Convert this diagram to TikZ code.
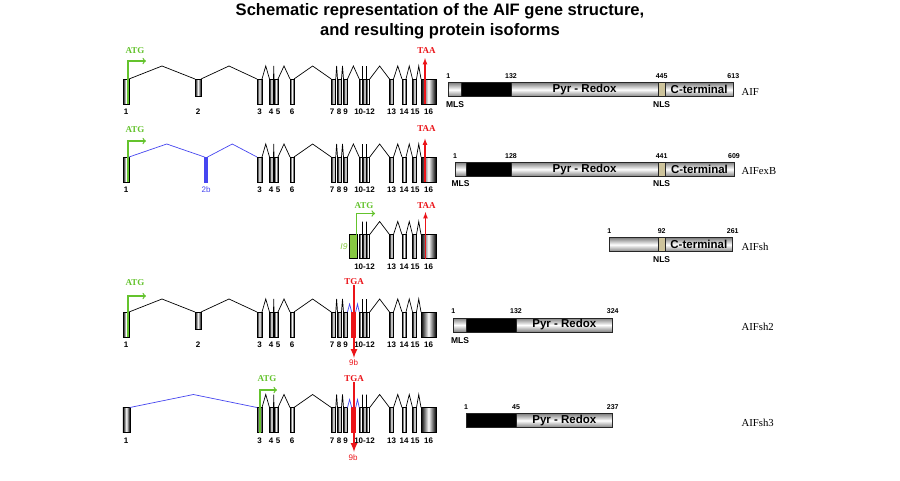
\documentclass[tikz,border=0pt]{standalone}
\usepackage{fontspec}
\setmainfont{Liberation Sans}
\newfontfamily\timesfont{Liberation Serif}
\usepackage{tikz}
\usetikzlibrary{shapes,arrows,positioning,calc}
\definecolor{atggreen}{RGB}{100,195,45}
\definecolor{stopred}{RGB}{235,20,25}
\definecolor{altblue}{RGB}{70,70,240}
\definecolor{nlstan}{RGB}{205,195,155}
\definecolor{ingreen}{RGB}{135,200,65}
\tikzstyle{exon} = [rectangle, draw=black, line width=0.6pt, left color=black,
right color=black, middle color=white, inner sep=0pt, outer sep=0pt, anchor=north, minimum height=25pt]
\tikzstyle{altexon} = [rectangle, draw, line width=0.5pt, inner sep=0pt, outer sep=0pt, anchor=north, minimum height=25pt]
\tikzstyle{intron} = [draw, line width=0.7pt]
\tikzstyle{altintron} = [intron, draw=altblue]
\tikzstyle{exnum} = [inner sep=0pt, font=\fontsize{8}{9}\selectfont\bfseries]
\tikzstyle{codon} = [inner sep=0pt, font=\timesfont\bfseries\fontsize{9}{10}\selectfont]
\tikzstyle{atg} = [draw=atggreen, line width=1.3pt, -to]
\tikzstyle{taa} = [draw=stopred, line width=1.2pt, -latex]
\tikzstyle{tga} = [draw=stopred, line width=2pt, -latex]
\tikzstyle{seg} = [rectangle, draw=black!85, line width=0.5pt, top color=black!50, bottom color=black!50,
middle color=white, inner sep=0pt, outer sep=0pt, minimum height=14pt, font=\fontsize{11.5}{12}\selectfont\bfseries]
\tikzstyle{blackseg} = [rectangle, draw=black!85, fill=black, line width=0.5pt, inner sep=0pt, outer sep=0pt, minimum height=14pt]
\tikzstyle{nlsseg} = [blackseg, fill=nlstan]
\tikzstyle{pnum} = [inner sep=0pt, font=\fontsize{7}{8}\selectfont\bfseries]
\tikzstyle{domlabel} = [inner sep=0pt, font=\fontsize{8.5}{9}\selectfont\bfseries]
\tikzstyle{isoform} = [inner sep=0pt, anchor=west, font=\timesfont\fontsize{10.7}{12}\selectfont]

% intron: from exon, to exon, rise of the peak
\newcommand{\spliceline}[4][intron]{%
  \draw[#1] (#2.north east) -- ($(#2.north east)!.5!(#3.north west)+(0,-#4)$) -- (#3.north west);}
% exons 3-16 with their introns and numbers: row prefix, top
\newcommand{\coregene}[2]{%
  \foreach \n/\x/\w in {3/259.5/5,4/271.5/4,5/276/4,6/292/4,7/333.5/4.5,8/339.5/4,9/345.5/4,%
10/361/3.5,11/364.5/3.5,12/368/3.5,13/391.5/4,14/404/4,15/414.5/4,16/428.5/15}
    \node[exon, minimum width=\w pt] (#1e\n) at (\x,#2) {};
  \foreach \a/\b in {3/4,4/5,5/6,6/7,7/8,8/9,10/11,11/12,12/13,13/14,14/15,15/16}
    \spliceline{#1e\a}{#1e\b}{13};
  \foreach \t/\x in {3/259.5,4/271,5/278,6/292,7/332,8/339,9/345.5,10-12/364.5,13/391.5,14/404,15/415,16/428.5}
    \node[exnum] (#1n\t) at (\x,#2+33) {\t};
}

\begin{document}
\begin{tikzpicture}[x=1pt, y=-1pt]
    \fill[white] (0,0) rectangle (900,480);
    \useasboundingbox (0,0) rectangle (900,480);

    % Title
    \node[align=center, inner sep=0pt, anchor=north, font=\fontsize{16.6}{20}\selectfont\bfseries] (title) at (440,3)
        {Schematic representation of the AIF gene structure,\\and resulting protein isoforms};

    % AIF gene
    \coregene{r1}{79}
    \node[exon, minimum width=6pt] (r1e1) at (126,79) {};
    \node[exon, minimum width=6pt, minimum height=17pt] (r1e2) at (198,79) {};
    \foreach \a/\b in {1/2,2/3,9/10} \spliceline{r1e\a}{r1e\b}{13};
    \node[exnum] (r1n1) at (126,112) {1};
    \node[exnum] (r1n2) at (198,112) {2};
    \node[codon, text=atggreen] (r1atg) at (135,51) {ATG};
    \coordinate (r1atgend) at (146,61);
    \draw[atg] ([xshift=-1pt]r1e1.south east) |- (r1atgend);
    \node[codon, text=stopred] (r1taa) at (426.5,51) {TAA};
    \coordinate (r1taaend) at (425,58);
    \draw[taa] (r1taaend |- r1e16.south) -- (r1taaend);

    % AIFexB gene
    \coregene{r2}{157}
    \node[exon, minimum width=6pt] (r2e1) at (126,157) {};
    \node[altexon, fill=altblue, draw=altblue, minimum width=3pt] (r2e2b) at (206,157) {};
    \spliceline[altintron]{r2e1}{r2e2b}{13}
    \spliceline[altintron]{r2e2b}{r2e3}{13}
    \spliceline{r2e9}{r2e10}{13}
    \node[exnum] (r2n1) at (126,190) {1};
    \node[exnum, text=altblue, font=\fontsize{8}{9}\selectfont] (r2n2b) at (206,190) {2b};
    \node[codon, text=atggreen] (r2atg) at (135,129.5) {ATG};
    \coordinate (r2atgend) at (146,141);
    \draw[atg] ([xshift=-1pt]r2e1.south east) |- (r2atgend);
    \node[codon, text=stopred] (r2taa) at (426.5,129) {TAA};
    \coordinate (r2taaend) at (425,138.5);
    \draw[taa] (r2taaend |- r2e16.south) -- (r2taaend);

    % AIFsh gene
    \node[altexon, fill=ingreen, minimum width=8pt, minimum height=24pt] (r3i9) at (353.3,234.5) {};
    \foreach \n/\x/\w in {10/361/3.5,11/364.5/3.5,12/368/3.5,13/391.5/4,14/404/4,15/414.5/4,16/428.5/15}
        \node[exon, minimum width=\w pt, minimum height=24pt] (r3e\n) at (\x,234.5) {};
    \foreach \a/\b in {10/11,11/12,12/13,13/14,14/15,15/16} \spliceline{r3e\a}{r3e\b}{13};
    \foreach \t/\x in {10-12/364.5,13/391.5,14/404,15/415,16/428.5}
        \node[exnum] (r3n\t) at (\x,266.5) {\t};
    \node[inner sep=0pt, text=ingreen, font=\fontsize{8.5}{9}\selectfont\itshape] (r3i9lab) at (344,247) {I9};
    \node[codon, text=atggreen] (r3atg) at (364,206) {ATG};
    \coordinate (r3atgend) at (375,213.5);
    \draw[atg] ([xshift=-0.5pt]r3i9.north east) |- (r3atgend);
    \node[codon, text=stopred] (r3taa) at (426.5,206) {TAA};
    \coordinate (r3taaend) at (425.5,212);
    \draw[taa] (r3taaend |- r3e16.south) -- (r3taaend);

    % AIFsh2 gene
    \coregene{r4}{312}
    \node[exon, minimum width=6pt] (r4e1) at (126,312) {};
    \node[exon, minimum width=6pt, minimum height=17pt] (r4e2) at (198,312) {};
    \node[altexon, fill=stopred, draw=stopred, minimum width=4pt] (r4e9b) at (353.7,312) {};
    \foreach \a/\b in {1/2,2/3} \spliceline{r4e\a}{r4e\b}{13};
    \spliceline[altintron]{r4e9}{r4e9b}{8}
    \spliceline[altintron]{r4e9b}{r4e10}{8}
    \node[exnum] (r4n1) at (126,345) {1};
    \node[exnum] (r4n2) at (198,345) {2};
    \node[codon, text=atggreen] (r4atg) at (135,283) {ATG};
    \coordinate (r4atgend) at (146,296);
    \draw[atg] ([xshift=-1pt]r4e1.south east) |- (r4atgend);
    \node[codon, text=stopred] (r4tga) at (354,282) {TGA};
    \coordinate (r4tgaend) at (354,358);
    \draw[tga] (r4tga.south) -- (r4tgaend);
    \node[exnum, text=stopred, font=\fontsize{8}{9}\selectfont] (r4n9b) at (353.5,363) {9b};

    % AIFsh3 gene
    \coregene{r5}{407.5}
    \node[exon, minimum width=7pt] (r5e1) at (126.3,407.5) {};
    \node[altexon, fill=stopred, draw=stopred, minimum width=4pt] (r5e9b) at (353.7,407.5) {};
    \spliceline[altintron]{r5e1}{r5e3}{13}
    \spliceline[altintron]{r5e9}{r5e9b}{8}
    \spliceline[altintron]{r5e9b}{r5e10}{8}
    \node[exnum] (r5n1) at (126,440.5) {1};
    \node[codon, text=atggreen] (r5atg) at (267,379) {ATG};
    \coordinate (r5atgend) at (277,390);
    \draw[atg] ([xshift=-2pt]r5e3.south east) |- (r5atgend);
    \node[codon, text=stopred] (r5tga) at (354,379) {TGA};
    \coordinate (r5tgaend) at (354,452);
    \draw[tga] (r5tga.south) -- (r5tgaend);
    \node[exnum, text=stopred, font=\fontsize{8}{9}\selectfont] (r5n9b) at (353,458) {9b};

    % AIF protein
    \node[seg, anchor=west, minimum width=13.4pt] (p1a) at (448.3,89.7) {};
    \node[blackseg, right=0pt of p1a, minimum width=49.3pt] (p1b) {};
    \node[seg, right=0pt of p1b, minimum width=147.3pt] (p1c) {Pyr - Redox};
    \node[nlsseg, right=0pt of p1c, minimum width=6.7pt] (p1d) {};
    \node[seg, right=0pt of p1d, minimum width=68.3pt] (p1e) {C-terminal};
    \node[pnum, above=4pt of p1a.north west] (p1n1) {1};
    \node[pnum, above=4pt of p1b.north east] (p1n132) {132};
    \node[pnum, above=4pt of p1d.north] (p1n445) {445};
    \node[pnum, above=4pt of p1e.north east] (p1n613) {613};
    \node[domlabel, below=4.5pt of p1a.south] (p1mls) {MLS};
    \node[domlabel, below=4.5pt of p1d.south] (p1nls) {NLS};
    \node[isoform] (p1name) at (741.5,91.5) {AIF};

    % AIFexB protein
    \node[seg, anchor=west, minimum width=11pt] (p2a) at (455,169.3) {};
    \node[blackseg, right=0pt of p2a, minimum width=45pt] (p2b) {};
    \node[seg, right=0pt of p2b, minimum width=147.3pt] (p2c) {Pyr - Redox};
    \node[nlsseg, right=0pt of p2c, minimum width=6.7pt] (p2d) {};
    \node[seg, right=0pt of p2d, minimum width=69pt] (p2e) {C-terminal};
    \node[pnum, above=4pt of p2a.north west] (p2n1) {1};
    \node[pnum, above=4pt of p2b.north east] (p2n128) {128};
    \node[pnum, above=4pt of p2d.north] (p2n441) {441};
    \node[pnum, above=4pt of p2e.north east] (p2n609) {609};
    \node[domlabel, below=4.5pt of p2a.south] (p2mls) {MLS};
    \node[domlabel, below=4.5pt of p2d.south] (p2nls) {NLS};
    \node[isoform] (p2name) at (741.5,171) {AIFexB};

    % AIFsh protein
    \node[seg, anchor=west, minimum width=49pt] (p3a) at (609.3,244.7) {};
    \node[nlsseg, right=0pt of p3a, minimum width=6.7pt] (p3b) {};
    \node[seg, right=0pt of p3b, minimum width=67.7pt] (p3c) {C-terminal};
    \node[pnum, above=4pt of p3a.north west] (p3n1) {1};
    \node[pnum, above=4pt of p3b.north] (p3n92) {92};
    \node[pnum, above=4pt of p3c.north east] (p3n261) {261};
    \node[domlabel, below=5pt of p3b.south] (p3nls) {NLS};
    \node[isoform] (p3name) at (741.5,246.5) {AIFsh};

    % AIFsh2 protein
    \node[seg, anchor=west, minimum width=13.4pt] (p4a) at (453.3,325) {};
    \node[blackseg, right=0pt of p4a, minimum width=49.3pt] (p4b) {};
    \node[seg, right=0pt of p4b, minimum width=96.7pt] (p4c) {Pyr - Redox};
    \node[pnum, above=4pt of p4a.north west] (p4n1) {1};
    \node[pnum, above=4pt of p4b.north east] (p4n132) {132};
    \node[pnum, above=4pt of p4c.north east] (p4n324) {324};
    \node[domlabel, below=5pt of p4a.south] (p4mls) {MLS};
    \node[isoform] (p4name) at (741.5,326.5) {AIFsh2};

    % AIFsh3 protein
    \node[blackseg, anchor=west, minimum width=50pt] (p5a) at (466,420.5) {};
    \node[seg, right=0pt of p5a, minimum width=96.7pt] (p5b) {Pyr - Redox};
    \node[pnum, above=4pt of p5a.north west] (p5n1) {1};
    \node[pnum, above=4pt of p5a.north east] (p5n45) {45};
    \node[pnum, above=4pt of p5b.north east] (p5n237) {237};
    \node[isoform] (p5name) at (741.5,422.5) {AIFsh3};

\end{tikzpicture}
\end{document}
